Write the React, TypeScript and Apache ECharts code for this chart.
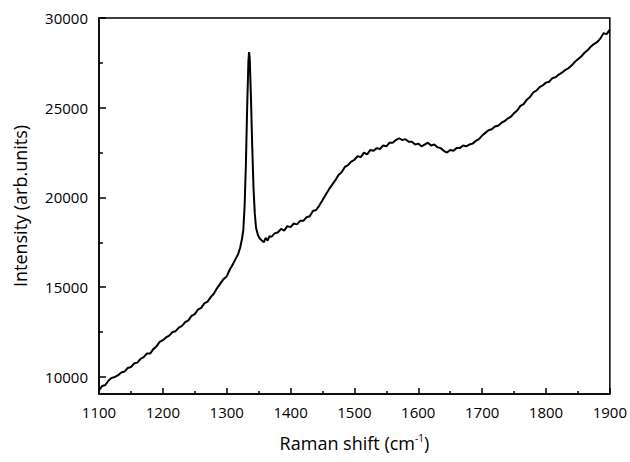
import React, { useEffect, useRef } from "react";
import * as echarts from "echarts";

// Raman shift (cm^-1)
const shifts: number[] = [
  1100, 1105, 1110, 1115, 1120, 1125, 1130, 1135, 1140, 1145, 1150, 1155, 1160, 1165, 1170, 1175,
  1180, 1185, 1190, 1195, 1200, 1205, 1210, 1215, 1220, 1225, 1230, 1235, 1240, 1245, 1250, 1255,
  1260, 1265, 1270, 1275, 1280, 1285, 1290, 1295, 1300, 1305, 1310, 1315, 1318, 1321, 1324, 1326,
  1328, 1330, 1332, 1334, 1335, 1336, 1338, 1340, 1342, 1344, 1346, 1349, 1352, 1355, 1358, 1361,
  1364, 1367, 1370, 1375, 1380, 1385, 1390, 1395, 1400, 1405, 1410, 1415, 1420, 1425, 1430, 1435,
  1440, 1445, 1450, 1455, 1460, 1465, 1470, 1475, 1480, 1485, 1490, 1495, 1500, 1505, 1510, 1515,
  1520, 1525, 1530, 1535, 1540, 1545, 1550, 1555, 1560, 1565, 1570, 1575, 1580, 1585, 1590, 1595,
  1600, 1605, 1610, 1615, 1620, 1625, 1630, 1635, 1640, 1645, 1650, 1655, 1660, 1665, 1670, 1675,
  1680, 1685, 1690, 1695, 1700, 1705, 1710, 1715, 1720, 1725, 1730, 1735, 1740, 1745, 1750, 1755,
  1760, 1765, 1770, 1775, 1780, 1785, 1790, 1795, 1800, 1805, 1810, 1815, 1820, 1825, 1830, 1835,
  1840, 1845, 1850, 1855, 1860, 1865, 1870, 1875, 1880, 1885, 1890, 1895, 1900,
];

// Intensity (arb. units)
const intensity: number[] = [
  9250, 9500, 9550, 9800, 9950, 10000, 10100, 10250, 10300, 10500, 10550, 10750, 10800, 11000, 11100, 11300,
  11300, 11550, 11700, 11950, 12050, 12200, 12300, 12500, 12550, 12750, 12850, 13050, 13150, 13400, 13500, 13750,
  13850, 14100, 14200, 14450, 14650, 14950, 15200, 15450, 15600, 16000, 16300, 16650, 16850, 17200, 17700, 18200,
  19500, 21800, 25000, 27600, 28100, 27800, 25500, 22800, 20500, 19100, 18300, 17900, 17700, 17600, 17500, 17750,
  17600, 17850, 17800, 18000, 18050, 18250, 18150, 18400, 18350, 18550, 18500, 18700, 18700, 18900, 18950, 19250,
  19300, 19550, 19850, 20150, 20450, 20700, 20950, 21250, 21400, 21700, 21800, 22000, 22100, 22300, 22250, 22500,
  22400, 22650, 22600, 22750, 22700, 22900, 22850, 23050, 23050, 23200, 23300, 23200, 23250, 23100, 23100, 22950,
  23000, 22850, 22950, 23050, 22900, 22950, 22800, 22750, 22600, 22500, 22650, 22600, 22750, 22750, 22900, 22850,
  22950, 23000, 23150, 23250, 23450, 23600, 23750, 23800, 23950, 24000, 24150, 24250, 24400, 24500, 24700, 24850,
  25100, 25200, 25450, 25600, 25850, 25950, 26150, 26250, 26400, 26450, 26650, 26700, 26850, 26950, 27100, 27200,
  27350, 27550, 27700, 27850, 28050, 28200, 28400, 28550, 28650, 28850, 29150, 29100, 29350,
];

const yLabels: number[] = [10000, 15000, 20000, 25000, 30000];
const yMinorTicks: number[] = [12500, 17500, 22500, 27500];

export default function App() {
  const ref = useRef<HTMLDivElement>(null);

  useEffect(() => {
    if (!ref.current) return;
    const chart = echarts.init(ref.current, null, { renderer: "svg" });
    const font = "Open Sans";
    const yMin = 9050;
    const yMax = 30000;
    const plain = (v: number) => String(v);
    chart.setOption({
      animation: false,
      backgroundColor: "#ffffff",
      grid: {
        left: 99,
        right: 18,
        top: 18,
        bottom: 68,
        show: true,
        borderColor: "#000",
        borderWidth: 1.5,
        backgroundColor: "transparent",
      },
      xAxis: {
        type: "value",
        min: 1100,
        max: 1900,
        interval: 100,
        name: "Raman shift (cm{sup|-1})",
        nameLocation: "middle",
        nameGap: 39,
        nameTextStyle: {
          fontFamily: font,
          fontSize: 18,
          color: "#000",
          rich: {
            sup: { fontFamily: font, fontSize: 10, color: "#000", verticalAlign: "top", padding: [0, 0, 9, 0] },
          },
        },
        axisLine: { show: true, lineStyle: { color: "#000", width: 1.5 } },
        axisTick: { show: true, inside: true, length: 6, lineStyle: { color: "#000", width: 1.5 } },
        minorTick: { show: true, splitNumber: 2, length: 3, lineStyle: { color: "#000", width: 1.5 } },
        axisLabel: { fontFamily: font, fontSize: 15, color: "#000", margin: 10, formatter: plain },
        splitLine: { show: false },
      },
      yAxis: [
        {
          type: "value",
          min: yMin,
          max: yMax,
          name: "Intensity (arb.units)",
          nameLocation: "middle",
          nameGap: 70,
          nameTextStyle: { fontFamily: font, fontSize: 18, color: "#000" },
          axisLine: { show: true, lineStyle: { color: "#000", width: 1.5 } },
          axisTick: {
            show: true,
            inside: true,
            length: 7,
            customValues: yLabels,
            lineStyle: { color: "#000", width: 1.5 },
          },
          axisLabel: {
            fontFamily: font,
            fontSize: 15,
            color: "#000",
            margin: 11,
            customValues: yLabels,
            formatter: plain,
          },
          splitLine: { show: false },
        },
        {
          type: "value",
          position: "left",
          min: yMin,
          max: yMax,
          axisLine: { show: false },
          axisTick: {
            show: true,
            inside: true,
            length: 4,
            customValues: yMinorTicks,
            lineStyle: { color: "#000", width: 1.5 },
          },
          axisLabel: { show: false },
          splitLine: { show: false },
        },
      ],
      series: [
        {
          type: "line",
          data: shifts.map((s, i) => [s, intensity[i]]),
          showSymbol: false,
          symbol: "none",
          lineStyle: { color: "#000", width: 2 },
          clip: true,
        },
      ],
    });
    return () => chart.dispose();
  }, []);

  return <div ref={ref} style={{ width: 630, height: 462, position: "absolute", left: 0, top: 0 }} />;
}
